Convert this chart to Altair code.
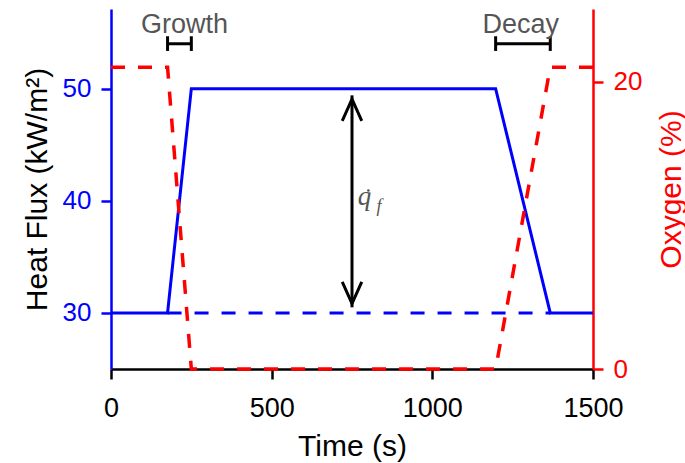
import altair as alt
import pandas as pd

# ---------------- data ----------------
hf_time = [0, 176, 250, 1197, 1367, 1500]
hf_value = [30, 30, 50, 50, 30, 30]
base_time = [176, 1367]
base_value = [30, 30]
o2_time = [0, 176, 250, 1197, 1367, 1500]
o2_value = [21, 21, 0, 0, 21, 21]

x_ticks = [0, 500, 1000, 1500]
hf_ticks = [30, 40, 50]
o2_ticks = [0, 20]

phase_names = ["Growth", "Decay"]
phase_start = [176, 1197]
phase_end = [250, 1367]
phase_label_t = [229, 1275]
bracket_level = [54.0, 54.0]
cap_low = [53.36, 53.36]
cap_high = [54.67, 54.67]
label_level = [54.96, 54.96]

arrow_t = [750]
arrow_top = [49.4]
arrow_bottom = [30.5]
head_up_level = [48.1]
head_down_level = [31.8]

q_t = [789]
q_level = [39.58]
f_t = [834]
f_level = [38.98]
dot_t = [801]
dot_level = [40.92]

# ---------------- scales / axes ----------------
FONT = "Liberation Sans"
BLUE = "#0000ff"
RED = "#ff0000"
GRAY = "#555555"

x_scale = alt.Scale(domain=[0, 1500], nice=False, zero=False)
hf_scale = alt.Scale(domain=[25, 57.1], nice=False, zero=False)
o2_scale = alt.Scale(domain=[0, 25.05], nice=False, zero=False)

x_axis = alt.Axis(values=x_ticks, title="Time (s)", format="d", grid=False,
                  domainColor="black", domainWidth=2.5, tickColor="black",
                  tickWidth=2.5, tickSize=10, labelFont=FONT, labelFontSize=27,
                  labelColor="black", labelPadding=16, labelFlush=False,
                  titleFont=FONT, titleFontSize=30, titleFontWeight="normal",
                  titleColor="black", titleBaseline="alphabetic", titleY=86)

hf_axis = alt.Axis(values=hf_ticks, title="Heat Flux (kW/m²)", orient="left",
                   format="d", grid=False, domainColor=BLUE, domainWidth=2.5,
                   tickColor=BLUE, tickWidth=2.5, tickSize=10, labelFont=FONT,
                   labelFontSize=26, labelColor=BLUE, labelPadding=10,
                   titleFont=FONT, titleFontSize=30, titleFontWeight="normal",
                   titleColor="black", titleAngle=270, titleBaseline="alphabetic",
                   titleAlign="center", titleX=-65, titleY=180)

o2_axis = alt.Axis(values=o2_ticks, title="Oxygen (%)", orient="right",
                   format="d", grid=False, domainColor=RED, domainWidth=2.5,
                   tickColor=RED, tickWidth=2.5, tickSize=10, labelFont=FONT,
                   labelFontSize=26, labelColor=RED, labelPadding=10,
                   titleFont=FONT, titleFontSize=30, titleFontWeight="normal",
                   titleColor=RED, titleAngle=270, titleBaseline="alphabetic",
                   titleAlign="center", titleX=87, titleY=180)


def X():
    return alt.X("t:Q", scale=x_scale, axis=x_axis)


def Yhf():
    return alt.Y("v:Q", scale=hf_scale, axis=hf_axis)


# ---------------- data frames ----------------
hf_df = pd.DataFrame({"t": hf_time, "v": hf_value})
base_df = pd.DataFrame({"t": base_time, "v": base_value})
o2_df = pd.DataFrame({"t": o2_time, "v": o2_value})
phase_df = pd.DataFrame({"name": phase_names, "t": phase_start, "t2": phase_end,
                         "v": bracket_level, "lt": phase_label_t, "lv": label_level})
cap_df = pd.DataFrame({"t": phase_start + phase_end, "v": cap_low + cap_low,
                       "v2": cap_high + cap_high})
label_df = pd.DataFrame({"name": phase_names, "t": phase_label_t, "v": label_level})
arrow_df = pd.DataFrame({"t": arrow_t, "v": arrow_top, "v2": arrow_bottom})
up_df = pd.DataFrame({"t": arrow_t, "v": head_up_level})
down_df = pd.DataFrame({"t": arrow_t, "v": head_down_level})
q_df = pd.DataFrame({"t": q_t, "v": q_level, "s": ["q"]})
f_df = pd.DataFrame({"t": f_t, "v": f_level, "s": ["f"]})
dot_df = pd.DataFrame({"t": dot_t, "v": dot_level})

# ---------------- marks ----------------
hf_line = alt.Chart(hf_df).mark_line(color=BLUE, strokeWidth=3).encode(x=X(), y=Yhf())
base_line = alt.Chart(base_df).mark_line(color=BLUE, strokeWidth=3,
                                         strokeDash=[14, 13]).encode(x=X(), y=Yhf())
bracket = alt.Chart(phase_df).mark_rule(color="black", strokeWidth=3).encode(
    x=X(), x2="t2:Q", y=Yhf())
caps = alt.Chart(cap_df).mark_rule(color="black", strokeWidth=3).encode(
    x=X(), y=Yhf(), y2="v2:Q")
labels = alt.Chart(label_df).mark_text(font=FONT, fontSize=27, color=GRAY,
                                       align="center", baseline="alphabetic").encode(
    x=X(), y=Yhf(), text="name:N")
arrow_line = alt.Chart(arrow_df).mark_rule(color="black", strokeWidth=3).encode(
    x=X(), y=Yhf(), y2="v2:Q")
head_up = alt.Chart(up_df).mark_point(shape="M-0.9,1L0,-1L0.9,1", size=470,
                                      filled=False, strokeWidth=3, color="black",
                                      opacity=1).encode(x=X(), y=Yhf())
head_down = alt.Chart(down_df).mark_point(shape="M-0.9,-1L0,1L0.9,-1", size=470,
                                          filled=False, strokeWidth=3, color="black",
                                          opacity=1).encode(x=X(), y=Yhf())
q_text = alt.Chart(q_df).mark_text(font="Liberation Serif", fontStyle="italic",
                                   fontSize=27, color=GRAY, align="center",
                                   baseline="alphabetic").encode(x=X(), y=Yhf(), text="s:N")
f_text = alt.Chart(f_df).mark_text(font="Liberation Serif", fontStyle="italic",
                                   fontSize=18, color=GRAY, align="center",
                                   baseline="alphabetic").encode(x=X(), y=Yhf(), text="s:N")
dot = alt.Chart(dot_df).mark_point(shape="circle", size=7, filled=True, color=GRAY,
                                   opacity=1).encode(x=X(), y=Yhf())

hf_layer = alt.layer(base_line, hf_line, bracket, caps, labels, arrow_line,
                     head_up, head_down, q_text, f_text, dot)

o2_line = alt.Chart(o2_df).mark_line(color=RED, strokeWidth=3.5,
                                     strokeDash=[14, 13]).encode(
    x=X(), y=alt.Y("v:Q", scale=o2_scale, axis=o2_axis))

chart = alt.layer(hf_layer, o2_line).resolve_scale(y="independent").properties(
    width=482, height=360,
    autosize=alt.AutoSizeParams(type="none"),
    padding={"left": 111, "top": 9, "right": 92, "bottom": 94},
    background="white",
).configure_view(stroke=None)

chart.save("out.html", embed_options={"renderer": "svg", "actions": False})
